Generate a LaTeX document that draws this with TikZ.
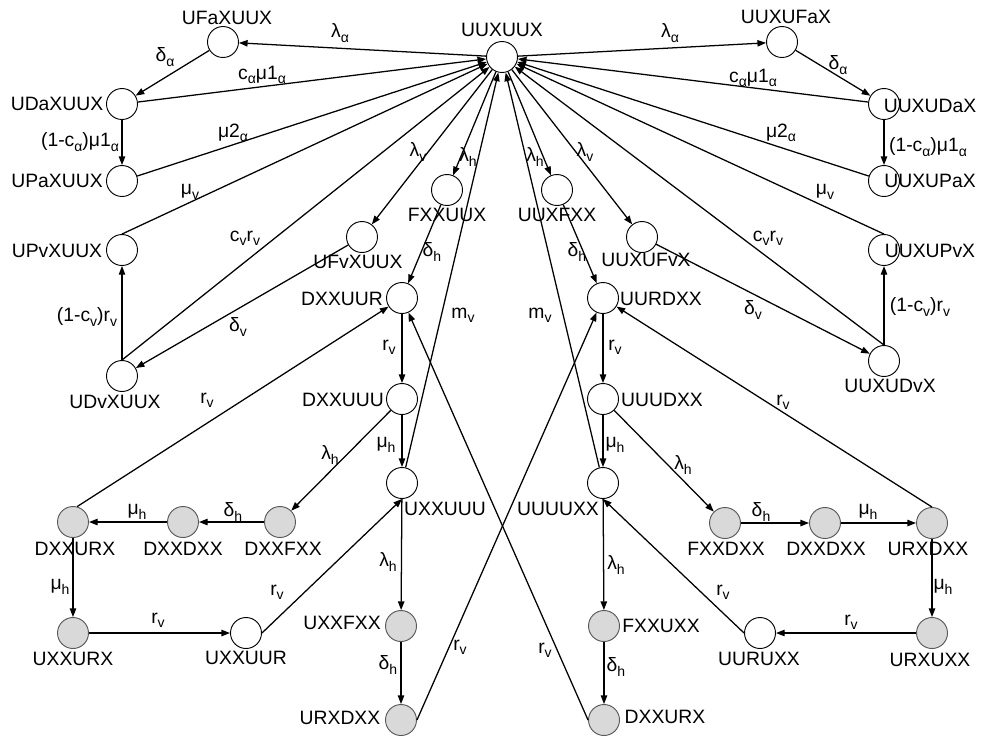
\documentclass[tikz,border=0pt]{standalone}
\usepackage{fontspec}
\setmainfont{Liberation Sans}
\usetikzlibrary{arrows.meta}
\definecolor{shadefill}{HTML}{D9D9D9}
\newcommand\sbs[1]{\raisebox{-3.3pt}{\fontsize{10.5}{10.5}\selectfont #1}}
\begin{document}
\begin{tikzpicture}[x=0.75pt,y=-0.75pt,
  st/.style={circle,draw,line width=0.7pt,minimum size=23.25pt,inner sep=0pt,fill=white},
  sh/.style={st,fill=shadefill,draw=black!65},
  tx/.style={font=\fontsize{14.5}{16}\selectfont,inner sep=0pt},
  ar/.style={-{Triangle[length=6.5pt,width=4.8pt]},line width=0.95pt}]
\useasboundingbox (0,0) rectangle (998,740);
\fill[white] (0,0) rectangle (998,740);
% ---- state circles ----
\node[st] (c) at (502,57) {};
\node[st] (ufa) at (223,42) {};
\node[st] (ufaR) at (782,42) {};
\node[st] (uda) at (122,104) {};
\node[st] (udaR) at (884,104) {};
\node[st] (upa) at (122,181) {};
\node[st] (upaR) at (884,181) {};
\node[st] (upv) at (122,250) {};
\node[st] (upvR) at (884,250) {};
\node[st] (udv) at (122,376) {};
\node[st] (udvR) at (884,361) {};
\node[st] (ufv) at (362,237) {};
\node[st] (ufvR) at (642,237) {};
\node[st] (fxxuux) at (447,190) {};
\node[st] (uuxfxx) at (557,190) {};
\node[st] (dxxuur) at (402,298) {};
\node[st] (uurdxx) at (603,298) {};
\node[st] (dxxuuu) at (402,399) {};
\node[st] (uuudxx) at (603,399) {};
\node[st] (uxxuuu) at (402,483) {};
\node[st] (uuuuxx) at (603,483) {};
\node[sh] (dxxurxL) at (73,522) {};
\node[sh] (dxxdxxL) at (183,522) {};
\node[sh] (dxxfxx) at (280,522) {};
\node[sh] (fxxdxx) at (725,523) {};
\node[sh] (dxxdxxR) at (825,523) {};
\node[sh] (urxdxxR) at (932,523) {};
\node[sh] (uxxurx) at (73,633) {};
\node[st] (uxxuur) at (246,633) {};
\node[st] (uuruxx) at (760,633) {};
\node[sh] (urxuxx) at (932,633) {};
\node[sh] (uxxfxx) at (401,626) {};
\node[sh] (urxdxxB) at (401,720) {};
\node[sh] (fxxuxx) at (604,626) {};
\node[sh] (dxxurxB) at (604,720) {};
% ---- state names ----
\node[tx] (t1) at (502,30) {UUXUUX};
\node[tx] (t2) at (227,18) {UFaXUUX};
\node[tx] (t3) at (786,17) {UUXUFaX};
\node[tx] (t4) at (57,104) {UDaXUUX};
\node[tx] (t5) at (930,106) {UUXUDaX};
\node[tx] (t6) at (57,181) {UPaXUUX};
\node[tx] (t7) at (930,181) {UUXUPaX};
\node[tx] (t8) at (57,251) {UPvXUUX};
\node[tx] (t9) at (930,251) {UUXUPvX};
\node[tx] (t10) at (115,402) {UDvXUUX};
\node[tx] (t11) at (890,386) {UUXUDvX};
\node[tx] (t12) at (358,262) {UFvXUUX};
\node[tx] (t13) at (646,260) {UUXUFvX};
\node[tx] (t14) at (447,215) {FXXUUX};
\node[tx] (t15) at (557,215) {UUXFXX};
\node[tx] (t16) at (342,299) {DXXUUR};
\node[tx] (t17) at (661,299) {UURDXX};
\node[tx] (t18) at (343,400) {DXXUUU};
\node[tx] (t19) at (662,400) {UUUDXX};
\node[tx] (t20) at (445,509) {UXXUUU};
\node[tx] (t21) at (558,509) {UUUUXX};
\node[tx] (t22) at (75,549) {DXXURX};
\node[tx] (t23) at (183,549) {DXXDXX};
\node[tx] (t24) at (283,549) {DXXFXX};
\node[tx] (t25) at (726,549) {FXXDXX};
\node[tx] (t26) at (826,549) {DXXDXX};
\node[tx] (t27) at (928,549) {URXDXX};
\node[tx] (t28) at (73,659) {UXXURX};
\node[tx] (t29) at (246,658) {UXXUUR};
\node[tx] (t30) at (759,659) {UURUXX};
\node[tx] (t31) at (930,660) {URXUXX};
\node[tx] (t32) at (342,623) {UXXFXX};
\node[tx] (t33) at (340,718) {URXDXX};
\node[tx] (t34) at (661,626) {FXXUXX};
\node[tx] (t35) at (665,717) {DXXURX};
% ---- left transitions ----
\draw[ar] (c) -- (ufa);
\draw[ar] (ufa) -- (uda);
\draw[ar] (uda) -- (c);
\draw[ar] (uda) -- (upa);
\draw[ar] (upa) -- (c);
\draw[ar] (upv.north) -- (c);
\draw[ar] (udv.north) -- (c);
\draw[ar] (udv.north) -- (upv);
\draw[ar] (c) -- (ufv);
\draw[ar] (ufv) -- (udv);
\draw[ar] (c) -- (fxxuux);
\draw[ar] (fxxuux) -- (dxxuur);
\draw[ar] (dxxuur) -- (dxxuuu);
\draw[ar] (dxxuuu) -- (uxxuuu);
\draw[ar] (uxxuuu) -- (c);
\draw[ar] (dxxuuu) -- (dxxfxx);
\draw[ar] (dxxfxx) -- (dxxdxxL);
\draw[ar] (dxxdxxL) -- (dxxurxL);
\draw[ar] (dxxurxL.75) -- (dxxuur);
\draw[ar] (dxxurxL) -- (uxxurx);
\draw[ar] (uxxurx) -- (uxxuur);
\draw[ar] (uxxuur.east) -- (uxxuuu.south);
\draw[ar] (uxxuuu) -- (uxxfxx);
\draw[ar] (uxxfxx) -- (urxdxxB);
\draw[ar] (urxdxxB.east) -- (uurdxx);
\draw[ar] (dxxurxB.west) -- (dxxuur);
% ---- right transitions ----
\draw[ar] (c) -- (ufaR);
\draw[ar] (ufaR) -- (udaR);
\draw[ar] (udaR) -- (c);
\draw[ar] (udaR) -- (upaR);
\draw[ar] (upaR) -- (c);
\draw[ar] (upvR.north) -- (c);
\draw[ar] (udvR.north) -- (c);
\draw[ar] (udvR.north) -- (upvR);
\draw[ar] (c) -- (ufvR);
\draw[ar] (ufvR) -- (udvR);
\draw[ar] (c) -- (uuxfxx);
\draw[ar] (uuxfxx) -- (uurdxx);
\draw[ar] (uurdxx) -- (uuudxx);
\draw[ar] (uuudxx) -- (uuuuxx);
\draw[ar] (uuuuxx) -- (c);
\draw[ar] (uuudxx) -- (fxxdxx);
\draw[ar] (fxxdxx) -- (dxxdxxR);
\draw[ar] (dxxdxxR) -- (urxdxxR);
\draw[ar] (urxdxxR.north) -- (uurdxx);
\draw[ar] (urxdxxR) -- (urxuxx);
\draw[ar] (urxuxx) -- (uuruxx);
\draw[ar] (uuruxx.west) -- (uuuuxx.south);
\draw[ar] (uuuuxx) -- (fxxuxx);
\draw[ar] (fxxuxx) -- (dxxurxB);
% ---- rate labels left ----
\node[tx] (r1) at (340,33) {λ\sbs{α}};
\node[tx] (r2) at (165,57) {δ\sbs{α}};
\node[tx] (r3) at (262,75) {c\sbs{α}μ1\sbs{α}};
\node[tx] (r4) at (80,142) {(1-c\sbs{α})μ1\sbs{α}};
\node[tx] (r5) at (233,133) {μ2\sbs{α}};
\node[tx] (r6) at (190,192) {μ\sbs{v}};
\node[tx] (r7) at (245,238) {c\sbs{v}r\sbs{v}};
\node[tx] (r8) at (87,317) {(1-c\sbs{v})r\sbs{v}};
\node[tx] (r9) at (418,152) {λ\sbs{v}};
\node[tx] (r10) at (238,327) {δ\sbs{v}};
\node[tx] (r11) at (468,157) {λ\sbs{h}};
\node[tx] (r12) at (432,252) {δ\sbs{h}};
\node[tx] (r13) at (389,347) {r\sbs{v}};
\node[tx] (r14) at (386,445) {μ\sbs{h}};
\node[tx] (r15) at (463,315) {m\sbs{v}};
\node[tx] (r16) at (330,455) {λ\sbs{h}};
\node[tx] (r17) at (233,512) {δ\sbs{h}};
\node[tx] (r18) at (137,512) {μ\sbs{h}};
\node[tx] (r19) at (207,400) {r\sbs{v}};
\node[tx] (r20) at (60,587) {μ\sbs{h}};
\node[tx] (r21) at (158,620) {r\sbs{v}};
\node[tx] (r22) at (277,592) {r\sbs{v}};
\node[tx] (r23) at (388,562) {λ\sbs{h}};
\node[tx] (r24) at (388,665) {δ\sbs{h}};
\node[tx] (r25) at (460,647) {r\sbs{v}};
\node[tx] (r26) at (545,650) {r\sbs{v}};
% ---- rate labels right ----
\node[tx] (q1) at (670,33) {λ\sbs{α}};
\node[tx] (q2) at (838,65) {δ\sbs{α}};
\node[tx] (q3) at (753,78) {c\sbs{α}μ1\sbs{α}};
\node[tx] (q4) at (928,147) {(1-c\sbs{α})μ1\sbs{α}};
\node[tx] (q5) at (781,133) {μ2\sbs{α}};
\node[tx] (q6) at (825,192) {μ\sbs{v}};
\node[tx] (q7) at (768,238) {c\sbs{v}r\sbs{v}};
\node[tx] (q8) at (920,307) {(1-c\sbs{v})r\sbs{v}};
\node[tx] (q9) at (585,152) {λ\sbs{v}};
\node[tx] (q10) at (753,310) {δ\sbs{v}};
\node[tx] (q11) at (535,157) {λ\sbs{h}};
\node[tx] (q12) at (577,252) {δ\sbs{h}};
\node[tx] (q13) at (615,347) {r\sbs{v}};
\node[tx] (q14) at (615,445) {μ\sbs{h}};
\node[tx] (q15) at (540,315) {m\sbs{v}};
\node[tx] (q16) at (683,465) {λ\sbs{h}};
\node[tx] (q17) at (761,512) {δ\sbs{h}};
\node[tx] (q18) at (868,512) {μ\sbs{h}};
\node[tx] (q19) at (783,402) {r\sbs{v}};
\node[tx] (q20) at (943,587) {μ\sbs{h}};
\node[tx] (q21) at (851,622) {r\sbs{v}};
\node[tx] (q22) at (723,592) {r\sbs{v}};
\node[tx] (q23) at (616,565) {λ\sbs{h}};
\node[tx] (q24) at (616,667) {δ\sbs{h}};
\end{tikzpicture}
\end{document}
